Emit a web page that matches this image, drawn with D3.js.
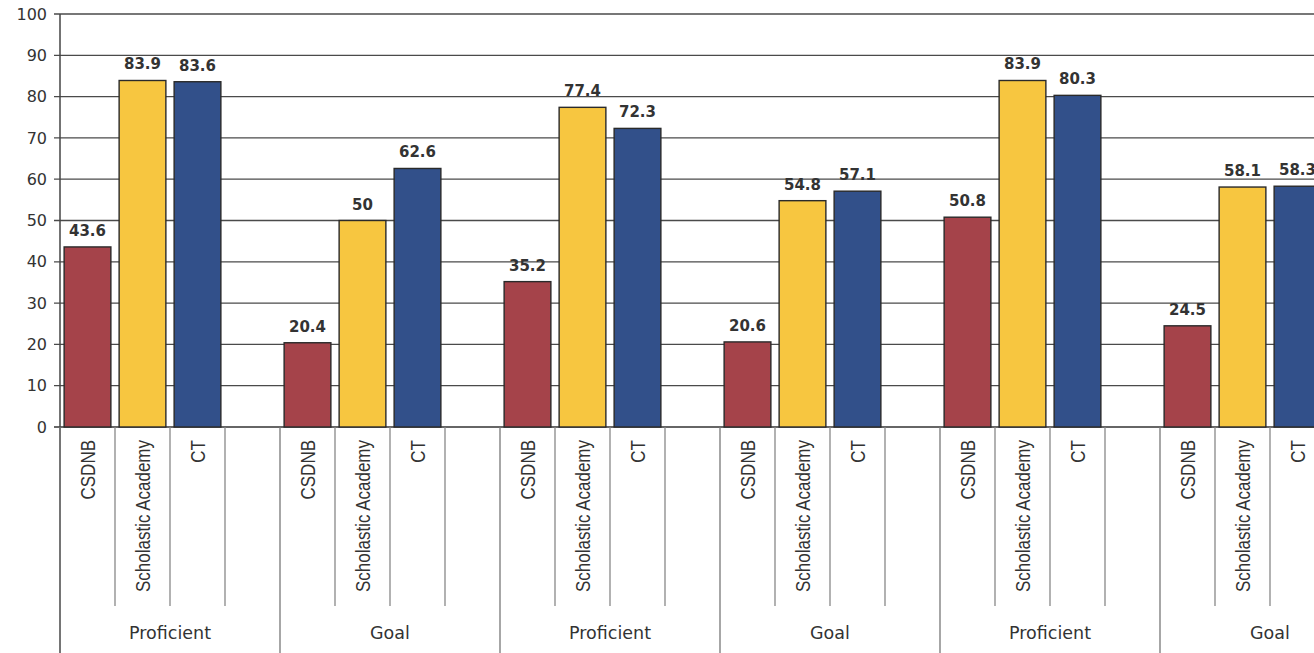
<!DOCTYPE html>
<html><head><meta charset="utf-8">
<script src="https://cdn.jsdelivr.net/npm/d3@7"></script>
<style>body{margin:0;background:#fff;overflow:hidden}svg{display:block}</style>
</head><body>
<svg id="c" width="1314" height="653"></svg>
<script>
const groups = ["Proficient","Goal","Proficient","Goal","Proficient","Goal"];
const series = ["CSDNB","Scholastic Academy","CT"];
const csdnb = [43.6,20.4,35.2,20.6,50.8,24.5];
const scholastic = [83.9,50,77.4,54.8,83.9,58.1];
const ct = [83.6,62.6,72.3,57.1,80.3,58.3];
const yTicks = [0,10,20,30,40,50,60,70,80,90,100];
const colors = ["#a5434a","#f7c640","#32508a"];

const svg = d3.select("#c");
const mLeft = 60, mTop = 14, mBottom = 427, mRight = 1380;
const wide = "DejaVu Sans, Verdana, sans-serif";
const narrow = "Liberation Sans, Arial, sans-serif";
const slotNames = [];
groups.forEach((g,gi)=>{ for(let s=0;s<4;s++) slotNames.push(gi+"_"+s); });
const x = d3.scaleBand().domain(slotNames).range([mLeft,mRight]).paddingInner(0).paddingOuter(0);
const y = d3.scaleLinear().domain([0,100]).range([mBottom,mTop]);
const gx = d3.scaleBand().domain(groups.map((g,i)=>i)).range([mLeft,mRight]);

// gridlines
svg.append("g").selectAll("line").data(yTicks).join("line")
  .attr("x1",mLeft-6).attr("x2",mRight).attr("y1",d=>y(d)).attr("y2",d=>y(d))
  .attr("stroke",d=>d===0?"#333":"#4a4a4a").attr("stroke-width",d=>d===0?1.6:1.3);

// y axis
const yAxis = d3.axisLeft(y).tickValues(yTicks).tickSize(0).tickPadding(13);
const ya = svg.append("g").attr("transform",`translate(${mLeft},0)`).call(yAxis);
ya.select(".domain").remove();
ya.selectAll("text").attr("font-family",wide).attr("font-size",16).attr("fill","#333");
svg.append("line").attr("x1",mLeft).attr("x2",mLeft).attr("y1",mTop).attr("y2",653).attr("stroke","#444").attr("stroke-width",1.5);

// bars
const vals = [csdnb, scholastic, ct];
const bw = x.bandwidth()*0.85;
const bars = [];
groups.forEach((g,gi)=>{ series.forEach((s,si)=>{ bars.push({gi,si,v:vals[si][gi]}); }); });
svg.append("g").selectAll("rect").data(bars).join("rect")
  .attr("x",d=>x(d.gi+"_"+d.si)+(x.bandwidth()-bw)/2)
  .attr("width",bw)
  .attr("y",d=>y(d.v)).attr("height",d=>y(0)-y(d.v))
  .attr("fill",d=>colors[d.si]).attr("stroke","#2a2a2a").attr("stroke-width",1.4);
svg.append("g").selectAll("text").data(bars).join("text")
  .attr("x",d=>x(d.gi+"_"+d.si)+x.bandwidth()/2)
  .attr("y",d=>y(d.v)-11)
  .attr("text-anchor","middle")
  .attr("font-family",wide).attr("font-size",15).attr("font-weight","bold").attr("fill","#333")
  .text(d=>d.v);

// category slot lines
svg.append("g").selectAll("line").data(slotNames).join("line")
  .attr("x1",d=>x(d)).attr("x2",d=>x(d))
  .attr("y1",mBottom).attr("y2",d=>d.endsWith("_0")?653:606)
  .attr("stroke",d=>d.endsWith("_0")?"#777":"#888").attr("stroke-width",1.3);

// series labels rotated
const lab = [];
groups.forEach((g,gi)=>{ series.forEach((s,si)=>lab.push({gi,si,s})); });
svg.append("g").selectAll("text").data(lab).join("text")
  .attr("transform",d=>`translate(${x(d.gi+"_"+d.si)+x.bandwidth()/2+7},440) rotate(-90) scale(1,1.2)`)
  .attr("text-anchor","end")
  .attr("font-family",narrow).attr("font-size",17).attr("fill","#333")
  .text(d=>d.s);

// group labels
svg.append("g").selectAll("text").data(groups).join("text")
  .attr("x",(d,i)=>gx(i)+gx.bandwidth()/2)
  .attr("y",639)
  .attr("text-anchor","middle")
  .attr("font-family",wide).attr("font-size",17.5).attr("fill","#333")
  .text(d=>d);
</script>
</body></html>
